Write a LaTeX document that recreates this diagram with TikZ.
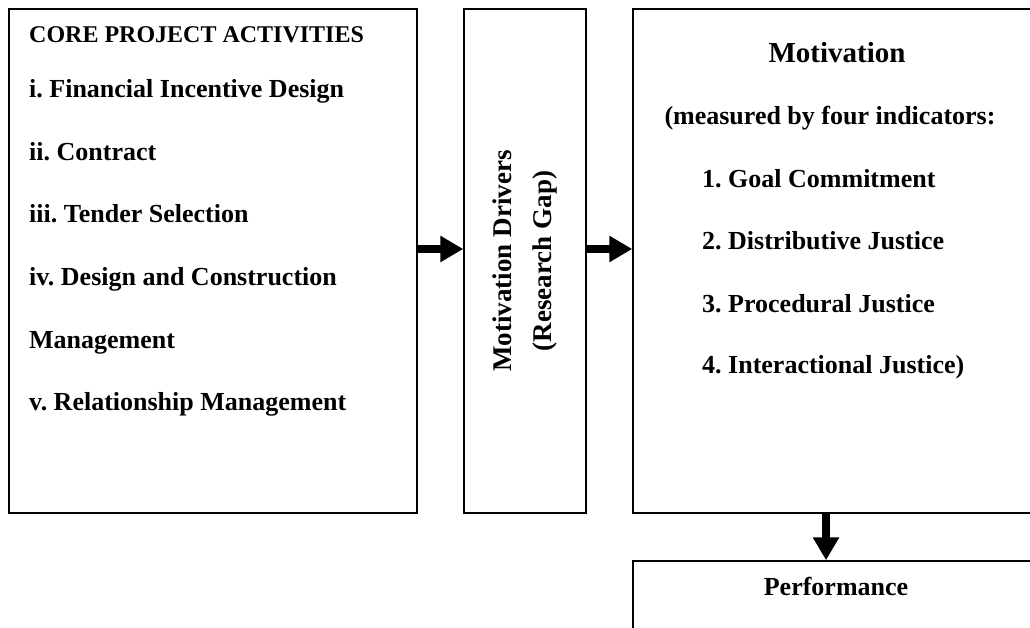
\documentclass[tikz,border=0pt]{standalone}
\usepackage{fontspec}
\setmainfont{Liberation Serif}
\usetikzlibrary{arrows.meta}
\frenchspacing
\begin{document}
\begin{tikzpicture}[x=1pt,y=-1pt,
  box/.style={draw,line width=1.5pt,inner sep=0pt},
  txt/.style={inner sep=0pt,anchor=base west,font=\bfseries\fontsize{26}{31}\selectfont},
  flow/.style={line width=8pt,-{Triangle[length=23pt,width=25pt]}}]
\path[use as bounding box,clip] (0,0) rectangle (1030,628);
% boxes
\node[box,minimum width=408pt,minimum height=504pt] (core) at (213,261) {};
\node[box,minimum width=122pt,minimum height=504pt] (gap) at (525,261) {};
\node[box,minimum width=408pt,minimum height=504pt] (motiv) at (837,261) {};
\node[box,minimum width=408pt,minimum height=200pt] (perf) at (837,661) {};
% left box
\node[txt,font=\bfseries\fontsize{24}{29}\selectfont] (c0) at (29,43) {CORE PROJECT ACTIVITIES};
\node[txt] (c1) at (29,98) {i. Financial Incentive Design};
\node[txt] (c2) at (29,160.5) {ii. Contract};
\node[txt] (c3) at (29,223) {iii. Tender Selection};
\node[txt] (c4) at (29,285.5) {iv. Design and Construction};
\node[txt] (c5) at (29,348) {Management};
\node[txt] (c6) at (29,410.5) {v. Relationship Management};
% middle box
\node[inner sep=0pt,rotate=90,align=center,font=\bfseries\fontsize{27}{40}\selectfont] (g1) at (525,261) {Motivation Drivers\\(Research Gap)};
% right box
\node[txt,anchor=base,font=\bfseries\fontsize{29}{35}\selectfont] (m0) at (837,63) {Motivation};
\node[txt,anchor=base] (m1) at (830,125) {(measured by four indicators:};
\node[txt] (m2) at (702,188) {1. Goal Commitment};
\node[txt] (m3) at (702,250) {2. Distributive Justice};
\node[txt] (m4) at (702,312) {3. Procedural Justice};
\node[txt] (m5) at (702,373) {4. Interactional Justice)};
\node[txt,anchor=base] (p0) at (836,595) {Performance};
% arrows
\draw[flow] ([yshift=12pt]core.east) -- ([yshift=12pt]gap.west);
\draw[flow] ([yshift=12pt]gap.east) -- ([yshift=12pt]motiv.west);
\draw[flow] ([xshift=-11pt]motiv.south) -- ([xshift=-11pt]perf.north);
\end{tikzpicture}
\end{document}
